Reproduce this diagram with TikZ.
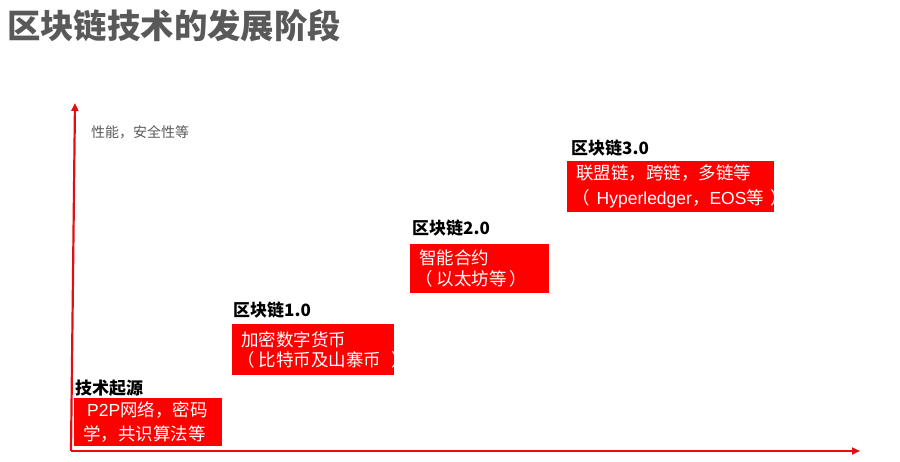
\documentclass[tikz,border=0pt]{standalone}
\usepackage{fontspec}
\setmainfont{Noto Sans CJK SC}
\newfontfamily\latinsans{Liberation Sans}
\usetikzlibrary{arrows.meta}
\definecolor{boxred}{HTML}{FF0000}
\definecolor{axisred}{HTML}{E01010}
\definecolor{titlegray}{HTML}{595959}
\newcommand{\openpar}[1]{\hspace*{-#1}（\hspace{#1}}
\newcommand{\closepar}[1]{\hspace{#1}）}
\tikzset{
  redbox/.style={fill=boxred, text=white, anchor=north west, inner ysep=0pt, inner xsep=9pt, align=left},
  stagehead/.style={anchor=west, inner sep=0pt, font=\bfseries\fontsize{17}{20}\selectfont, text=black},
  axisline/.style={draw=axisred, line width=2.2pt, -{Triangle[length=8pt,width=7pt]}},
}
\begin{document}
\begin{tikzpicture}[x=1pt,y=-1pt]
\useasboundingbox (0,0) rectangle (900,462);
% title
\node[anchor=west, inner sep=0pt, font=\bfseries\fontsize{33.4}{36}\selectfont, text=titlegray] (title) at (7,26) {区块链技术的发展阶段};
% axes
\coordinate (origin) at (71,451);
\coordinate (ytip) at (75,103);
\coordinate (xtip) at (860,451);
\draw[axisline] (origin) -- (ytip);
\draw[axisline] (origin) -- (xtip);
\node[anchor=west, inner sep=0pt, font=\fontsize{14}{16}\selectfont, text=titlegray] (ylabel) at (91,132) {性能，安全性等};
% stage 0
\node[stagehead] (h0) at (75,388) {技术起源};
\node[redbox, text width=130pt, minimum height=48pt, font=\fontsize{17.5}{24}\selectfont] (b0) at (74,398) {\mbox{\hspace*{4pt}{\latinsans P2P}网络，密码}\\\mbox{学，共识算法等}};
% stage 1
\node[stagehead] (h1) at (233,310) {区块链1.0};
\node[redbox, text width=144pt, minimum height=51pt, font=\fontsize{17.5}{20.5}\selectfont] (b1) at (232,324) {\mbox{加密数字货币}\\\mbox{\openpar{4pt}比特币及山寨币\closepar{10pt}}};
% stage 2
\node[stagehead] (h2) at (412,228) {区块链2.0};
\node[redbox, text width=121pt, minimum height=49pt, font=\fontsize{17.5}{21}\selectfont] (b2) at (410,244) {\mbox{智能合约}\\\mbox{\openpar{4pt}以太坊等\closepar{3pt}}};
% stage 3
\node[stagehead] (h3) at (571,148) {区块链3.0};
\node[redbox, text width=189pt, minimum height=51pt, font=\fontsize{17.5}{25}\selectfont] (b3) at (567,161) {\mbox{联盟链，跨链，多链等}\\\mbox{\openpar{4pt}\hspace{3pt}{\latinsans Hyperledger}，{\latinsans EOS}等\closepar{7pt}}};
\end{tikzpicture}
\end{document}
